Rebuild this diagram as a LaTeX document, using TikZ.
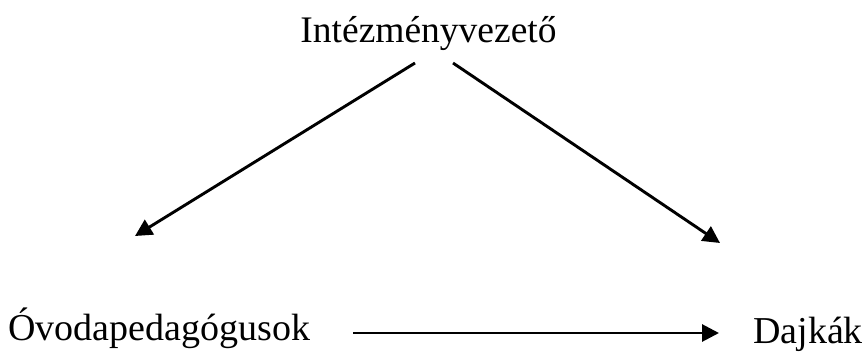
\documentclass[tikz,border=0pt]{standalone}
\usepackage{fontspec}
\setmainfont{Liberation Serif}
\usetikzlibrary{arrows.meta}
\begin{document}
\begin{tikzpicture}[x=1pt,y=-1pt,
  label/.style={inner sep=0pt,anchor=base west,font=\fontsize{38}{45}\selectfont},
  link/.style={line width=2.9pt,-{Triangle[length=17pt,width=17pt]}}]
  \useasboundingbox (0,0) rectangle (866,356);
  % hierarchy labels
  \node[label,anchor=base,font=\fontsize{37.5}{45}\selectfont] (head) at (428.5,42) {Intézményvezető};
  \node[label] (teach) at (8,340) {Óvodapedagógusok};
  \node[label] (nurse) at (753,343) {Dajkák};
  % connector end points
  \coordinate (hl) at (415,63);
  \coordinate (hr) at (453,63);
  \coordinate (tl) at (135,236);
  \coordinate (tr) at (720,243);
  \coordinate (ts) at (353,333);
  \coordinate (ne) at (719,333);
  % connectors
  \draw[link] (hl) -- (tl);
  \draw[link] (hr) -- (tr);
  \draw[link] (ts) -- (ne);
\end{tikzpicture}
\end{document}
